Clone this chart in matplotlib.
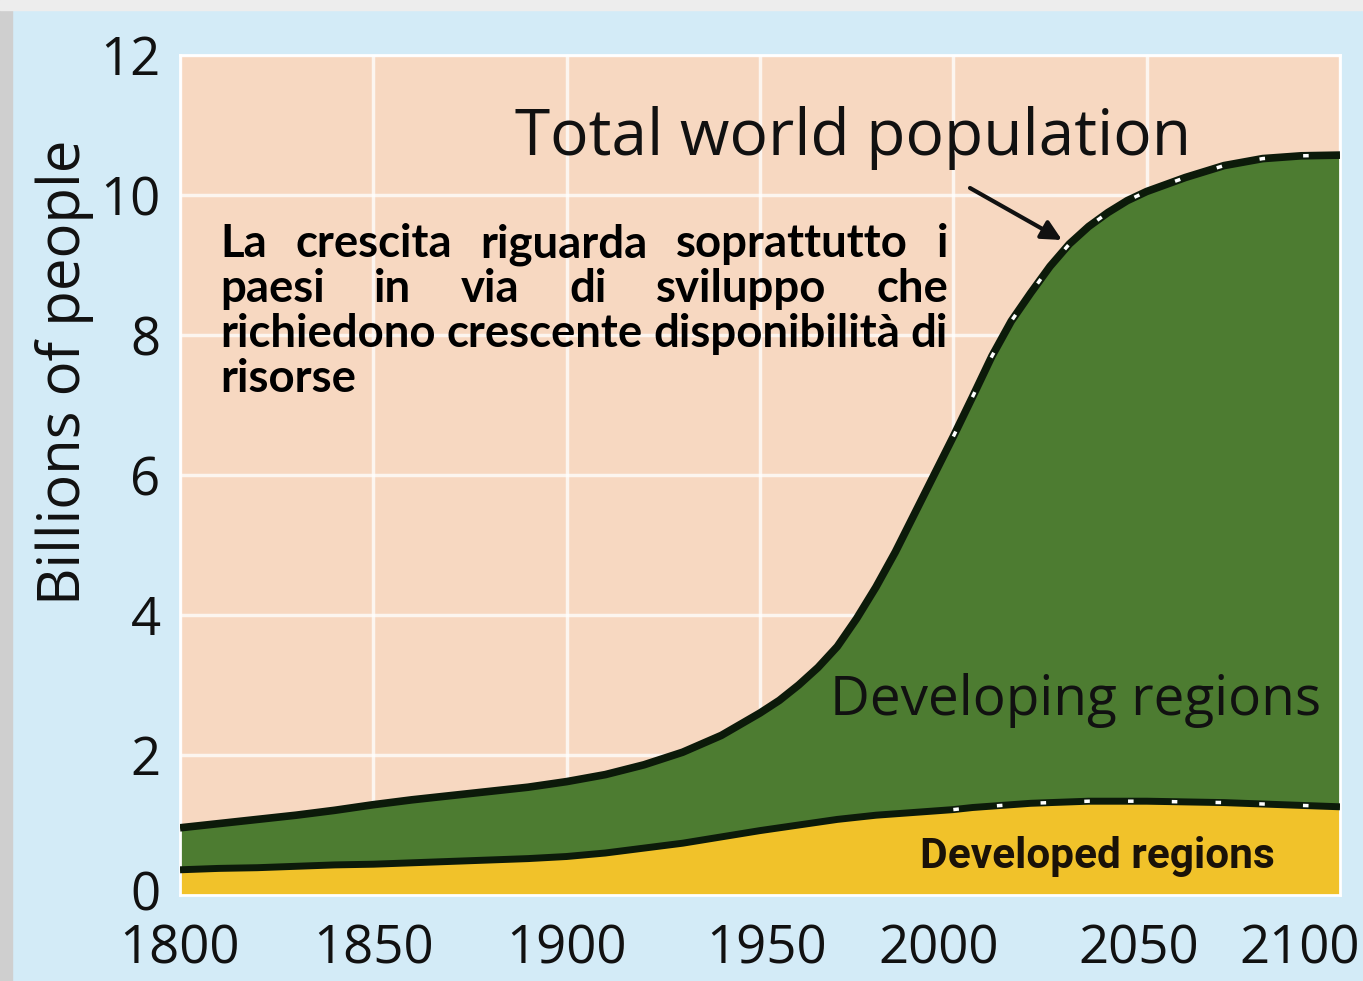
import matplotlib
matplotlib.use('Agg')
import matplotlib.pyplot as plt
import matplotlib.transforms as mtransforms
from matplotlib.patches import Rectangle
import numpy as np

# dati (miliardi di persone)
years = [1800, 1810, 1820, 1830, 1840, 1850, 1860, 1870, 1880, 1890,
         1900, 1910, 1920, 1930, 1940, 1950, 1955, 1960, 1965, 1970,
         1975, 1980, 1985, 1990, 1995, 2000, 2005, 2010, 2015, 2020,
         2025, 2030, 2035, 2040, 2045, 2050, 2060, 2070, 2080, 2090, 2100]
total = [0.96, 1.02, 1.08, 1.14, 1.21, 1.29, 1.36, 1.42, 1.48, 1.54,
         1.62, 1.72, 1.86, 2.04, 2.28, 2.60, 2.78, 3.00, 3.25, 3.55,
         3.95, 4.40, 4.90, 5.45, 6.00, 6.55, 7.12, 7.70, 8.20, 8.60,
         8.98, 9.30, 9.55, 9.75, 9.92, 10.05, 10.25, 10.42, 10.52, 10.56, 10.57]
developed = [0.36, 0.38, 0.39, 0.41, 0.43, 0.44, 0.46, 0.48, 0.50, 0.52,
             0.55, 0.60, 0.67, 0.74, 0.83, 0.92, 0.96, 1.00, 1.04, 1.08,
             1.11, 1.14, 1.16, 1.18, 1.20, 1.22, 1.25, 1.27, 1.29, 1.31,
             1.32, 1.33, 1.34, 1.34, 1.34, 1.34, 1.33, 1.32, 1.30, 1.28, 1.26]
proj_start = 2000

x_ticks = [1800, 1850, 1900, 1950, 2000, 2050, 2100]
y_ticks = [0, 2, 4, 6, 8, 10, 12]

title = 'Total world population'
note_lines = ['La crescita riguarda soprattutto i',
              'paesi in via di sviluppo che',
              'richiedono crescente disponibilità di',
              'risorse']
label_dev = 'Developing regions'
label_ded = 'Developed regions'
y_label = 'Billions of people'

W, H = 1363, 981
green = '#4d7c31'
yellow = '#f1c22a'
peach = '#f7d8c1'
dark = '#0c1a0a'

fig = plt.figure(figsize=(W / 100, H / 100), dpi=100)
fig.patch.set_facecolor('#d3ebf7')
fig.patches.append(Rectangle((0, 0), 12 / W, 1, transform=fig.transFigure,
                             color='#cfcfcf', zorder=0))
fig.patches.append(Rectangle((0, 1 - 10 / H), 1, 10 / H, transform=fig.transFigure,
                             color='#ededed', zorder=0))

ax = fig.add_axes([180 / W, 86 / H, 1160 / W, 840 / H])
ax.set_facecolor(peach)
ax.set_xlim(1800, 2100)
ax.set_ylim(0, 12)
ax.set_axisbelow(True)
ax.grid(color='white', lw=2.5, alpha=0.75)
for s in ax.spines.values():
    s.set_color('white')
    s.set_linewidth(2)

yrs = np.array(years)
tot = np.array(total)
dev = np.array(developed)
ax.fill_between(yrs, 0, dev, color=yellow, zorder=2)
ax.fill_between(yrs, dev, tot, color=green, zorder=2)
ax.plot(yrs, tot, color=dark, lw=5.5, zorder=3, solid_capstyle='butt')
ax.plot(yrs, dev, color=dark, lw=5.0, zorder=3, solid_capstyle='butt')
# tratto bianco per le proiezioni
m = yrs >= proj_start
ax.plot(yrs[m], tot[m], color='white', lw=2.5, dashes=(1.6, 11), zorder=4)
ax.plot(yrs[m], dev[m], color='white', lw=2.5, dashes=(1.6, 11), zorder=4)

ax.set_xticks(x_ticks)
ax.set_yticks(y_ticks)
ax.tick_params(length=0, labelsize=38, colors='#111111')
ax.tick_params(axis='x', pad=20)
ax.tick_params(axis='y', pad=14)
for lab in ax.get_xticklabels() + ax.get_yticklabels():
    lab.set_fontfamily('Open Sans')
# spostamenti delle etichette come nell'originale
shifts = {1950: 7, 2000: -15, 2050: -8, 2100: -40}
for val, lab in zip(x_ticks, ax.get_xticklabels()):
    if val in shifts:
        off = mtransforms.ScaledTranslation(shifts[val] / 100, 0, fig.dpi_scale_trans)
        lab.set_transform(lab.get_transform() + off)
lab0 = ax.get_yticklabels()[0]
lab0.set_transform(lab0.get_transform() +
                   mtransforms.ScaledTranslation(0, 0.05, fig.dpi_scale_trans))

renderer = fig.canvas.get_renderer()


def fitted(txt, x, y, width, fs0, **kw):
    t = fig.text(x / W, 1 - y / H, txt, fontsize=fs0, **kw)
    bb = t.get_window_extent(renderer)
    size = bb.height if kw.get('rotation') == 90 else bb.width
    t.set_fontsize(fs0 * width / size)
    return t


fitted(title, 515, 155, 675, 40, family='Open Sans', color='#111111',
       va='baseline')
fitted(label_dev, 830, 715, 490, 36, family='Open Sans', color='#111111',
       va='baseline', zorder=5)
fitted(label_ded, 920, 868, 355, 28, family='Roboto',
       weight='bold', color='#1a1208', va='baseline', zorder=5)
fitted(y_label, 65, 372, 465, 36, family='Open Sans', color='#111111',
       rotation=90, ha='center', va='center')

# testo giustificato
x0, x1 = 220, 948
probe = fig.text(0, 0, note_lines[2], fontsize=30, family='Lato', weight='bold')
fs = 30 * (x1 - x0) / probe.get_window_extent(renderer).width
probe.remove()
sp = fig.text(0, 0, 'a a', fontsize=fs, family='Lato', weight='bold')
sa = fig.text(0, 0, 'aa', fontsize=fs, family='Lato', weight='bold')
space_w = sp.get_window_extent(renderer).width - sa.get_window_extent(renderer).width
sp.remove()
sa.remove()
for i, line in enumerate(note_lines):
    yb = 257 + i * 45
    words = line.split()
    ts = [fig.text(0, 1 - yb / H, w, fontsize=fs, family='Lato', weight='bold',
                   color='black', va='baseline') for w in words]
    ws = [t.get_window_extent(renderer).width for t in ts]
    if i == len(note_lines) - 1 or len(words) == 1:
        gap = space_w
    else:
        gap = (x1 - x0 - sum(ws)) / (len(words) - 1)
    xx = x0
    for t, w in zip(ts, ws):
        t.set_x(xx / W)
        xx += w + gap

ax.annotate('', xy=(1062, H - 240), xytext=(970, H - 188),
            xycoords='figure pixels', textcoords='figure pixels',
            arrowprops=dict(arrowstyle='-|>', lw=3, color='#111111',
                            mutation_scale=30, shrinkA=0, shrinkB=0))

fig.savefig('out.png', dpi=100, facecolor=fig.get_facecolor())
